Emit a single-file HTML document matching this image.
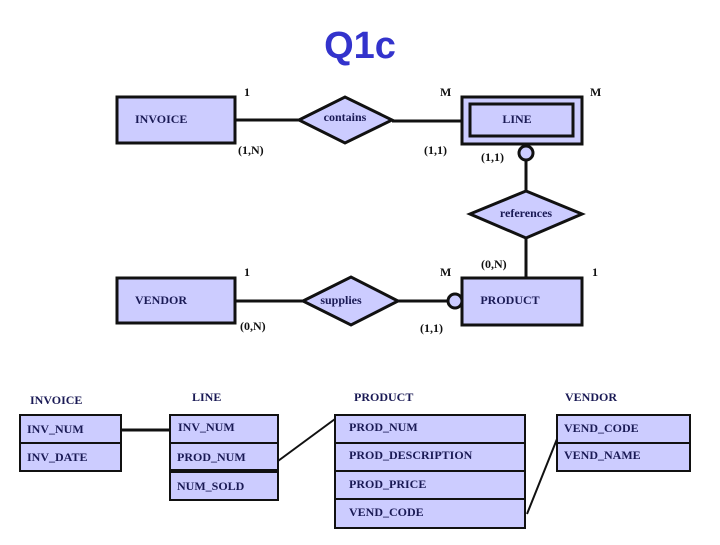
<!DOCTYPE html>
<html><head><style>
body{margin:0;background:#fff;}
svg text{font-family:"Liberation Serif",serif;font-weight:bold;}
</style></head><body>
<svg width="720" height="540" viewBox="0 0 720 540" xmlns="http://www.w3.org/2000/svg">
<text x="360" y="58" text-anchor="middle" style="font-family:'Liberation Sans',sans-serif;font-size:38px;font-weight:bold" fill="#3333cc">Q1c</text>
<g stroke="#111" stroke-width="3" fill="#ccccff">
<line x1="235" y1="120" x2="299" y2="120"/>
<line x1="392" y1="121" x2="462" y2="121"/>
<line x1="526" y1="160" x2="526" y2="191"/>
<line x1="526" y1="238" x2="526" y2="278"/>
<line x1="235" y1="301" x2="303" y2="301"/>
<line x1="398" y1="301" x2="448" y2="301"/>
<rect x="117" y="97" width="118" height="46"/>
<polygon points="299,120 345,97 392,120 345,143"/>
<rect x="462" y="97" width="120" height="47"/>
<rect x="470" y="104" width="103" height="32"/>
<circle cx="526" cy="153" r="7"/>
<polygon points="470,214 526,191 582,214 526,238"/>
<rect x="462" y="278" width="120" height="47"/>
<rect x="117" y="278" width="118" height="45"/>
<polygon points="303,301 351,277 398,301 351,325"/>
<circle cx="455" cy="301" r="7"/>
</g>
<g fill="#1a1a55" font-size="12">
<text x="135" y="123">INVOICE</text>
<text x="345" y="121" text-anchor="middle">contains</text>
<text x="517" y="123" text-anchor="middle">LINE</text>
<text x="526" y="217" text-anchor="middle">references</text>
<text x="510" y="304" text-anchor="middle">PRODUCT</text>
<text x="135" y="304">VENDOR</text>
<text x="341" y="304" text-anchor="middle">supplies</text>
</g>
<g fill="#111" font-size="12">
<text x="244" y="96">1</text>
<text x="440" y="96">M</text>
<text x="590" y="96">M</text>
<text x="238" y="154">(1,N)</text>
<text x="424" y="154">(1,1)</text>
<text x="481" y="161">(1,1)</text>
<text x="481" y="268">(0,N)</text>
<text x="244" y="276">1</text>
<text x="440" y="276">M</text>
<text x="592" y="276">1</text>
<text x="240" y="330">(0,N)</text>
<text x="420" y="332">(1,1)</text>
</g>
<g fill="#1a1a55" font-size="12">
<text x="30" y="404">INVOICE</text>
<text x="192" y="401">LINE</text>
<text x="354" y="401">PRODUCT</text>
<text x="565" y="401">VENDOR</text>
</g>
<g stroke="#111" stroke-width="2" fill="#ccccff">
<rect x="20" y="415" width="101" height="56"/>
<line x1="20" y1="443" x2="121" y2="443"/>
<rect x="170" y="415" width="108" height="85"/>
<line x1="170" y1="443" x2="278" y2="443"/>
<line x1="170" y1="471" x2="278" y2="471" stroke-width="4"/>
<rect x="335" y="415" width="190" height="113"/>
<line x1="335" y1="443" x2="525" y2="443"/>
<line x1="335" y1="471" x2="525" y2="471"/>
<line x1="335" y1="499" x2="525" y2="499"/>
<rect x="557" y="415" width="133" height="56"/>
<line x1="557" y1="443" x2="690" y2="443"/>
<line x1="121" y1="430" x2="170" y2="430" stroke-width="3"/>
<line x1="278" y1="461" x2="335" y2="419"/>
<line x1="527" y1="514" x2="557" y2="439"/>
</g>
<g fill="#1a1a55" font-size="12">
<text x="27" y="433">INV_NUM</text>
<text x="27" y="461">INV_DATE</text>
<text x="178" y="431">INV_NUM</text>
<text x="177" y="461">PROD_NUM</text>
<text x="177" y="490">NUM_SOLD</text>
<text x="349" y="431">PROD_NUM</text>
<text x="349" y="459">PROD_DESCRIPTION</text>
<text x="349" y="488">PROD_PRICE</text>
<text x="349" y="516">VEND_CODE</text>
<text x="564" y="432">VEND_CODE</text>
<text x="564" y="459">VEND_NAME</text>
</g>
</svg>
</body></html>
